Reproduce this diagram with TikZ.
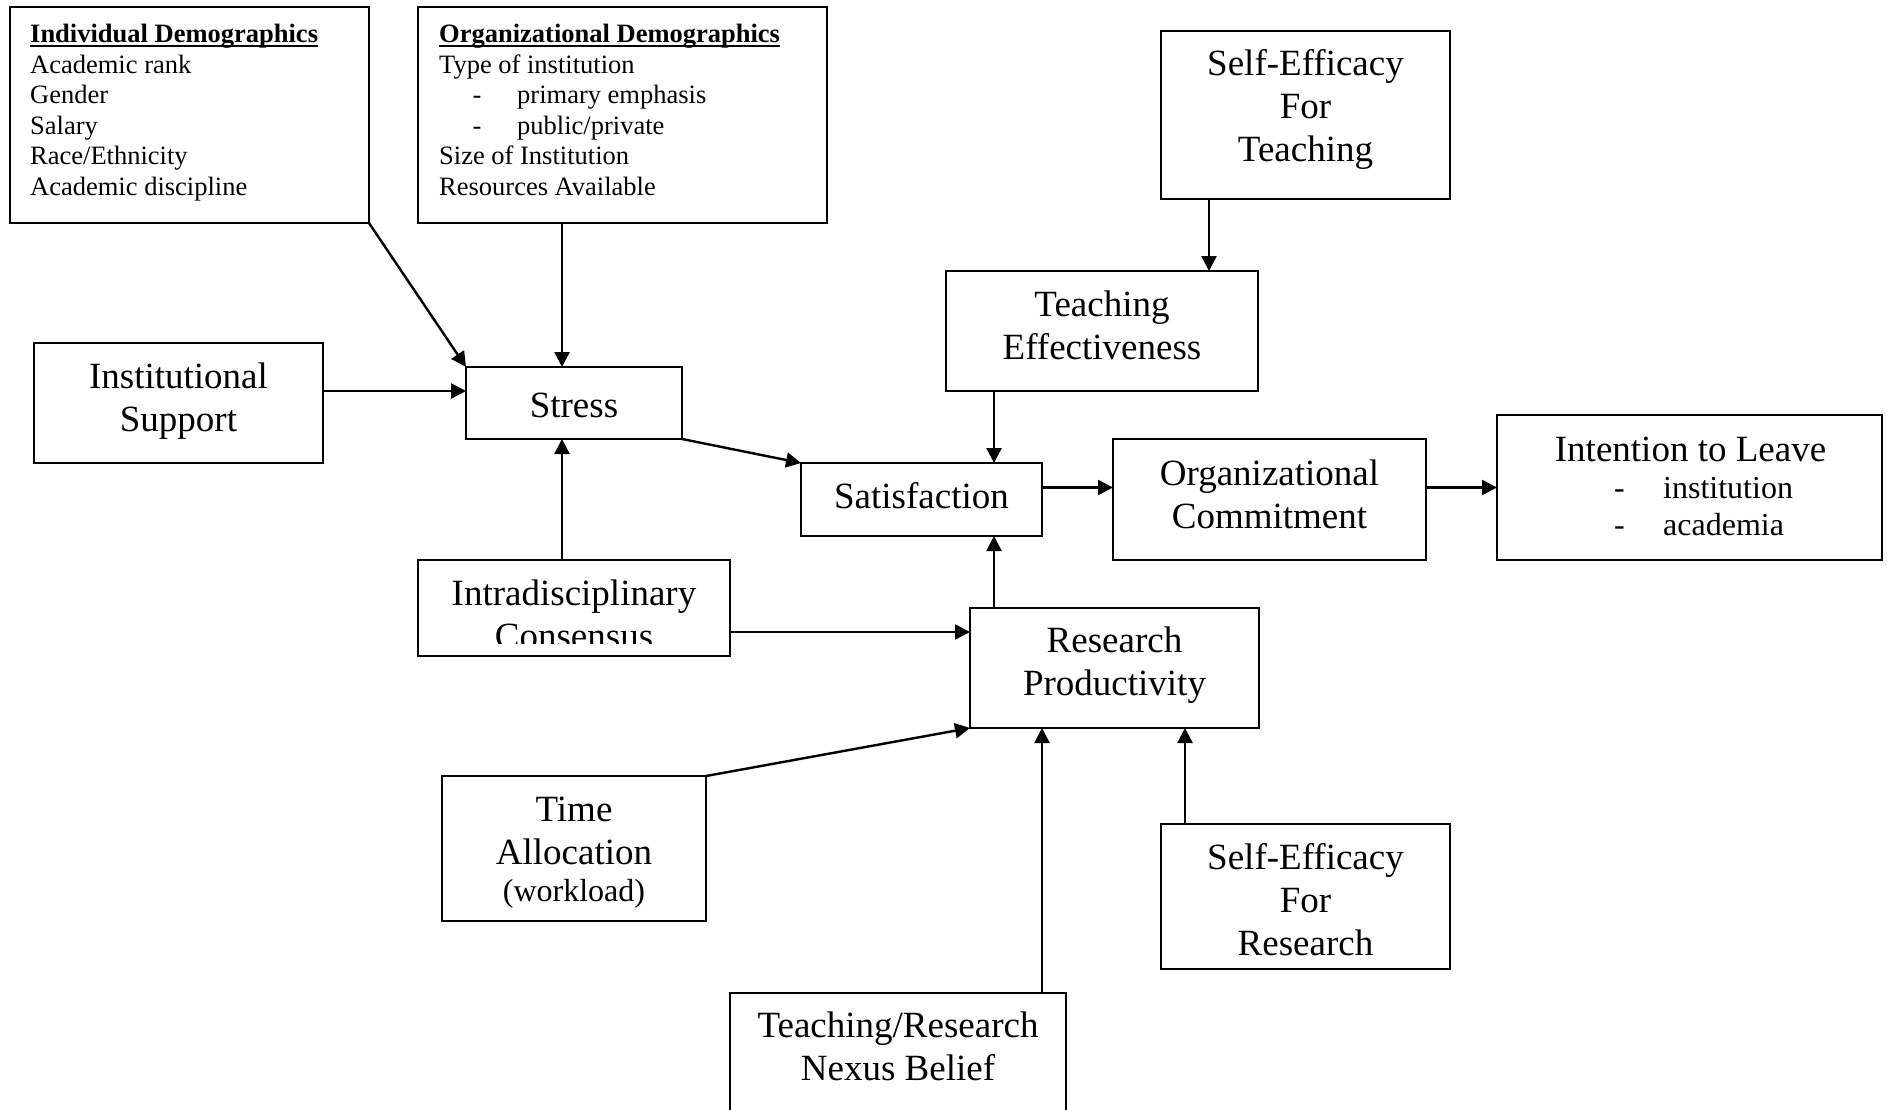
\documentclass[tikz,border=0pt]{standalone}
\usepackage{fontspec}
\setmainfont{Liberation Serif}
\usetikzlibrary{arrows.meta}
\newcommand\mybox[5]{\node[box, minimum width={#4-#2}, minimum height={#5-#3}] (#1) at (#2,#3) {};}
\newcommand\tl[5]{\node[#4] (#1) at (#2,#3) {#5};}
\newsavebox\ulbox
\newcommand\myul[1]{\sbox\ulbox{#1}\rlap{\rule[-5pt]{\wd\ulbox}{2.2pt}}\usebox\ulbox}
\begin{document}
\begin{tikzpicture}[x=1pt,y=-1pt,
  box/.style={draw, line width=1.8pt, inner sep=0pt, outer sep=0pt, anchor=north west},
  arr/.style={line width=2.4pt, -{Triangle[length=15pt,width=15pt]}},
  big/.style={inner sep=0pt, anchor=base, font=\fontsize{37}{43}\selectfont},
  mid/.style={inner sep=0pt, anchor=base, font=\fontsize{32}{37}\selectfont},
  midl/.style={inner sep=0pt, anchor=base west, font=\fontsize{32}{37}\selectfont},
  small/.style={inner sep=0pt, anchor=base west, font=\fontsize{26.5}{30.5}\selectfont}]
\useasboundingbox (0,0) rectangle (1887,1110);
\fill[white] (0,0) rectangle (1887,1110);
\clip (0,0) rectangle (1887,1110);

% boxes
\mybox{ind}{10}{7}{369}{223}
\mybox{org}{418}{7}{827}{223}
\mybox{set}{1161}{31}{1450}{199}
\mybox{teff}{946}{271}{1258}{391}
\mybox{inst}{34}{343}{323}{463}
\mybox{stress}{466}{367}{682}{439}
\mybox{sat}{801}{463}{1042}{536}
\mybox{oc}{1113}{439}{1426}{560}
\mybox{itl}{1497}{415}{1882}{560}
\mybox{intra}{418}{560}{730}{656}
\mybox{res}{970}{608}{1259}{728}
\mybox{time}{442}{776}{706}{921}
\mybox{ser}{1161}{824}{1450}{969}
\mybox{nex}{730}{993}{1066}{1140}

% list texts
\foreach \t [count=\i from 0] in {{\myul{\textbf{Individual Demographics}}},Academic rank,Gender,Salary,Race/Ethnicity,Academic discipline}
  \node[small] (ind\i) at (30,42.5+30.55*\i) {\t};
\foreach \t [count=\i from 0] in {{\myul{\textbf{Organizational Demographics}}},Type of institution,{\hspace*{33.5pt}\makebox[44.5pt][l]{-}primary emphasis},{\hspace*{33.5pt}\makebox[44.5pt][l]{-}public/private},Size of Institution,Resources Available}
  \node[small] (org\i) at (439,42.5+30.55*\i) {\t};

% big texts
\tl{set1}{1305.5}{76}{big}{Self-Efficacy}
\tl{set2}{1305.5}{119}{big}{For}
\tl{set3}{1305.5}{162}{big}{Teaching}
\tl{teff1}{1102}{316.5}{big}{Teaching}
\tl{teff2}{1102}{359.5}{big}{Effectiveness}
\tl{inst1}{178.5}{388.5}{big}{Institutional}
\tl{inst2}{178.5}{431}{big}{Support}
\tl{stress1}{574}{417}{big}{Stress}
\tl{sat1}{921.5}{508.5}{big}{Satisfaction}
\tl{oc1}{1269.5}{485}{big}{Organizational}
\tl{oc2}{1269.5}{528}{big}{Commitment}
\tl{itl1}{1690.5}{461}{big}{Intention to Leave}
\tl{itl2}{1614}{498.5}{midl}{\makebox[49pt][l]{-}institution}
\tl{itl3}{1614}{535.8}{midl}{\makebox[49pt][l]{-}academia}
\tl{intra1}{574}{605}{big}{Intradisciplinary}
\begin{scope}
\clip (intra.north west) rectangle ([yshift=13pt]intra.south east);
\tl{intra2}{574}{648}{big}{Consensus}
\end{scope}
\tl{res1}{1114.5}{652.4}{big}{Research}
\tl{res2}{1114.5}{695.5}{big}{Productivity}
\tl{time1}{574}{821}{big}{Time}
\tl{time2}{574}{864}{big}{Allocation}
\tl{time3}{574}{901}{mid}{(workload)}
\tl{ser1}{1305.5}{869}{big}{Self-Efficacy}
\tl{ser2}{1305.5}{912}{big}{For}
\tl{ser3}{1305.5}{955}{big}{Research}
\tl{nex1}{898}{1037.5}{big}{Teaching/Research}
\tl{nex2}{898}{1080}{big}{Nexus Belief}

% connectors
\draw[arr] (ind.south east) -- (stress.north west);
\draw[arr] ([xshift=-12pt]stress.north |- org.south) -- ([xshift=-12pt]stress.north);
\draw[arr] ([yshift=12pt]inst.east) -- ([yshift=12pt]inst.east -| stress.west);
\draw[arr] ([xshift=-12pt]intra.north) -- ([xshift=-12pt]stress.south);
\draw[arr] (stress.south east) -- (sat.north west);
\draw[arr] ([xshift=48pt]set.south west) -- ([xshift=48pt]set.south west |- teff.north);
\draw[arr] ([xshift=-48pt]sat.north east |- teff.south) -- ([xshift=-48pt]sat.north east);
\draw[arr] ([xshift=-48pt]sat.south east |- res.north) -- ([xshift=-48pt]sat.south east);
\draw[arr] ([yshift=12pt]sat.east) -- ([yshift=12pt]sat.east -| oc.west);
\draw[arr] ([yshift=12pt]oc.east) -- ([yshift=12pt]oc.east -| itl.west);
\draw[arr] ([yshift=-24pt]res.north west -| intra.east) -- ([yshift=-24pt]res.north west);
\draw[arr] (time.north east) -- (res.south west);
\draw[arr] ([xshift=-24pt]nex.north east) -- ([xshift=-24pt]nex.north east |- res.south);
\draw[arr] ([xshift=24pt]ser.north west) -- ([xshift=24pt]ser.north west |- res.south);
\end{tikzpicture}
\end{document}
